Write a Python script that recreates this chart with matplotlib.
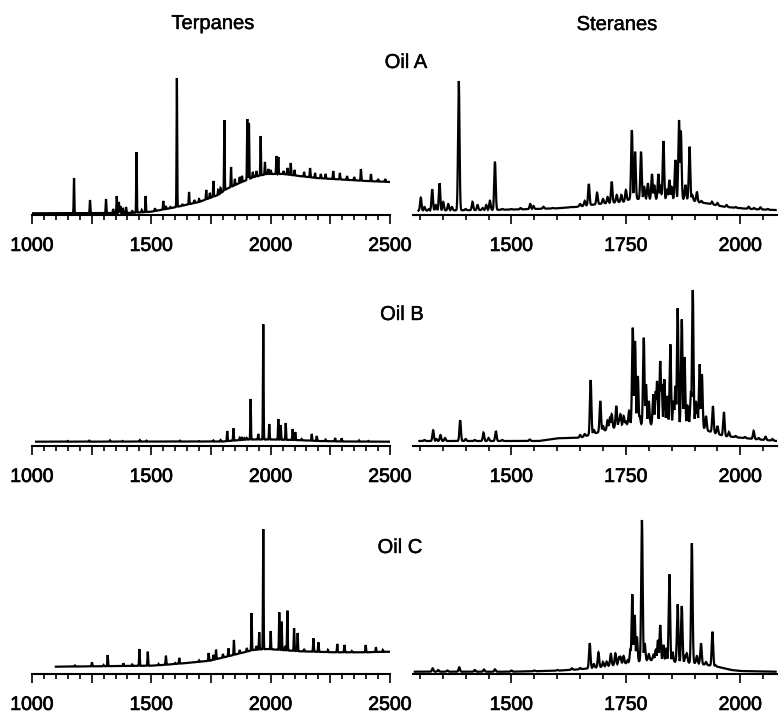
import numpy as np
import matplotlib
matplotlib.use("Agg")
import matplotlib.pyplot as plt
import matplotlib.patheffects as pe
from matplotlib.ticker import MultipleLocator, FuncFormatter

plt.rcParams['font.family'] = ['Liberation Sans', 'DejaVu Sans']

# ---------------- Terpanes (retention index, relative intensity) ----------------
terp_a_base_rt = [1000, 1400, 1450, 1500, 1600, 1700, 1780, 1815, 1870, 1930, 1985, 2050, 2120, 2190, 2260, 2400, 2500]
terp_a_base_int = [1.7, 2.0, 2.5, 3.3, 7.7, 13, 20, 26, 32, 38, 41, 41, 39, 37, 36, 34, 33]
terp_a_peak_rt = [1176, 1243, 1310, 1355, 1364, 1394, 1438, 1476, 1550, 1607, 1658, 1730, 1760,
                  1806, 1834, 1902, 1909, 1958, 1976, 2024, 2032, 2054, 2084, 2165, 2186, 2262,
                  2290, 2378, 2420]
terp_a_peak_top = [37, 15, 16, 19, 13, 8, 63, 19, 14, 137, 23, 25, 34,
                   95, 48, 96, 92, 79, 53, 59, 58, 44, 52, 47, 42, 44,
                   42, 46, 41]
terp_a_minor_rt = [1340, 1370, 1380, 1420, 1460, 1515, 1560, 1580, 1630, 1680, 1700, 1745, 1780,
                   1790, 1850, 1870, 1880, 1925, 1940, 1990, 2000, 2070, 2100, 2140, 2210, 2230,
                   2320, 2350, 2450, 2480]
terp_a_minor_top = [6, 9, 7, 4, 5, 6.7, 9, 8, 11, 15, 16, 22, 25,
                    27, 36, 38, 39, 43, 44, 46, 45, 47, 45, 43, 41, 41,
                    39, 38, 36, 36]

terp_b_base_rt = [1017, 1800, 1850, 1900, 2000, 2100, 2200, 2300, 2500]
terp_b_base_int = [4.3, 4.5, 5.5, 6.5, 6.5, 6.0, 5.0, 4.5, 4.3]
terp_b_peak_rt = [1818, 1844, 1878, 1900, 1916, 1948, 1969, 1994, 2032, 2042, 2063, 2092,
                  2103, 2172, 2193, 2270, 2297]
terp_b_peak_top = [15, 17.7, 9, 8, 47, 12, 121.7, 22, 27, 21, 23, 17,
                   14, 12, 10, 8, 7.7]
terp_b_minor_rt = [1150, 1240, 1327, 1380, 1452, 1480, 1620, 1700, 1760, 1790, 1870, 1890,
                   2130, 2230, 2370, 2410]
terp_b_minor_top = [5, 5.3, 5.6, 5, 5.8, 5.3, 5.3, 5, 5.5, 6, 8, 8,
                    7, 6.5, 5.5, 5]

terp_c_base_rt = [1100, 1500, 1564, 1648, 1746, 1844, 1927, 1983, 2123, 2263, 2400, 2500]
terp_c_base_int = [7.3, 8.3, 9.3, 11, 13.3, 19, 24, 25, 22.7, 21.7, 21.7, 22.3]
terp_c_peak_rt = [1251, 1317, 1383, 1450, 1485, 1561, 1617, 1740, 1771, 1823, 1846, 1920,
                  1952, 1969, 2000, 2036, 2046, 2070, 2098, 2113, 2179, 2200, 2279, 2309,
                  2398, 2441]
terp_c_peak_top = [11.7, 19, 10.7, 25, 22.3, 18.3, 16, 21, 24.3, 25.7, 34, 61,
                   41.7, 145, 43, 61.7, 52.3, 63.3, 46, 41, 35.7, 31.7, 30, 29,
                   29, 26.7]
terp_c_minor_rt = [1180, 1300, 1420, 1530, 1600, 1700, 1760, 1800, 1870, 1900, 1940, 2060,
                   2140, 2240, 2340, 2470]
terp_c_minor_top = [8.5, 9, 9.5, 10, 11, 13.5, 19, 20, 24, 26, 28, 28,
                    25, 24, 23, 24]

# ---------------- Steranes ----------------
ster_a_base_rt = [1297, 1450, 1526, 1599, 1640, 1672, 1700, 1745, 1760, 1890, 1905, 1927, 1964, 2000, 2036, 2077]
ster_a_base_int = [4.3, 5.0, 5.7, 6.7, 8, 10, 11.5, 13.3, 16, 16, 13, 11.7, 8.3, 6.7, 5.7, 5.0]
ster_a_peak_rt = [1302, 1327, 1343, 1351, 1362, 1385, 1415, 1426, 1453, 1464, 1541, 1570,
                  1669, 1687, 1719, 1730, 1763, 1770, 1783, 1798, 1807, 1821, 1832, 1840,
                  1858, 1866, 1870, 1889, 1905, 1938, 2018, 2044]
ster_a_peak_top = [17.3, 25.7, 31.7, 13, 11, 134, 13, 10, 14.3, 53.3, 11, 8.3,
                   31, 22.3, 33.3, 20, 85, 63.3, 63.3, 31.7, 41, 41, 74, 25,
                   55, 95, 84.3, 68.3, 23.3, 13.3, 8.3, 7.7]
ster_a_minor_rt = [1310, 1320, 1335, 1370, 1400, 1437, 1445, 1480, 1500, 1520, 1548, 1560,
                   1590, 1610, 1630, 1650, 1660, 1700, 1710, 1740, 1750, 1790, 1812, 1826,
                   1845, 1850, 1880, 1895, 1915, 1950, 1970, 1990, 2000, 2030, 2060]
ster_a_minor_top = [8, 6, 10, 8, 6, 7, 10, 6, 6, 7, 9, 6,
                    7, 7, 8, 11, 14, 16, 18, 20, 25, 28, 30, 30,
                    35, 28, 30, 20, 14, 12, 10, 8, 7, 7, 6]

ster_b_base_rt = [1299, 1560, 1600, 1650, 1700, 1750, 1900, 1930, 1964, 2000, 2036, 2080]
ster_b_base_int = [5.0, 5.0, 7.7, 8.3, 15, 21.7, 21.7, 15, 10, 8.3, 6.7, 5.0]
ster_b_peak_rt = [1329, 1345, 1388, 1439, 1466, 1650, 1673, 1694, 1710, 1719, 1729, 1738,
                  1749, 1765, 1770, 1776, 1789, 1794, 1810, 1818, 1825, 1834, 1847, 1854,
                  1863, 1872, 1878, 1896, 1903, 1911, 1916, 1940, 1964, 2029, 2055]
ster_b_peak_top = [15.7, 11, 25.7, 13.3, 15, 11, 66, 45, 25.7, 31.7, 40, 31.7,
                   25, 118.3, 105, 70, 108.3, 61.7, 51.7, 65, 85, 66.7, 101.7, 45,
                   137.7, 126.7, 89, 156, 45, 81.7, 71.7, 40, 34, 15, 9.3]
ster_b_minor_rt = [1310, 1336, 1355, 1400, 1420, 1450, 1480, 1540, 1580, 1610, 1630, 1660,
                   1680, 1700, 1715, 1735, 1745, 1757, 1780, 1800, 1815, 1828, 1840, 1858,
                   1885, 1892, 1906, 1925, 1950, 1975, 1990, 2010, 2040, 2070]
ster_b_minor_top = [6, 7, 8, 7, 6, 8, 6, 6.5, 6, 6.5, 8, 12,
                    16, 20, 28, 26, 30, 35, 30, 45, 55, 62, 50, 60,
                    40, 55, 35, 30, 20, 14, 10, 9, 8, 7]

ster_c_base_rt = [1289, 1500, 1600, 1650, 1700, 1750, 1800, 1850, 1900, 1950, 1980, 2000, 2077]
ster_c_base_int = [2.3, 2.3, 3.3, 4.7, 7.3, 10.7, 14, 12.3, 11, 7.3, 4, 3, 2.3]
ster_c_peak_rt = [1328, 1386, 1464, 1632, 1671, 1690, 1708, 1717, 1727, 1738, 1754, 1764,
                  1769, 1774, 1785, 1791, 1810, 1820, 1825, 1832, 1845, 1863, 1872, 1883,
                  1894, 1914, 1939, 1974]
ster_c_peak_top = [5.7, 6.7, 4.7, 5.7, 30.7, 21.7, 12.3, 20.7, 20.7, 17.3, 14, 79.7,
                   59, 37.3, 154, 30.7, 19, 34, 49, 29, 99.7, 69.7, 68, 20.7,
                   130.7, 30.7, 42.3, 4]
ster_c_minor_rt = [1340, 1360, 1420, 1440, 1500, 1550, 1600, 1650, 1680, 1700, 1735, 1745,
                   1760, 1800, 1815, 1838, 1852, 1880, 1905, 1925, 1945, 1960]
ster_c_minor_top = [4, 3.5, 4, 4.5, 3.5, 3.5, 4, 6, 10, 12, 17, 18,
                    25, 20, 24, 25, 22, 18, 18, 12, 9, 5]

row_titles = ["Oil A", "Oil B", "Oil C"]
col_titles = ["Terpanes", "Steranes"]


def build_trace(base_rt, base_int, peak_rt, peak_top, minor_rt, minor_top, width, step=0.25):
    rt = np.arange(base_rt[0], base_rt[-1] + step / 2, step)
    base = np.interp(rt, base_rt, base_int)
    sig = base.copy()
    for p, top in list(zip(peak_rt, peak_top)) + list(zip(minor_rt, minor_top)):
        amp = top - np.interp(p, base_rt, base_int)
        sig = np.maximum(sig, base + amp * np.exp(-0.5 * ((rt - p) / width) ** 2))
    return rt, sig


W, H = 779, 717
fig = plt.figure(figsize=(W / 100, H / 100), dpi=100)

heavy = [pe.withStroke(linewidth=0.5, foreground="black")]

spine_y = [215, 446, 674]
ax_h = 170
left_cols = [(32, 390, (1000, 2500)), (413, 777, (1285, 2080))]

terp = [
    (terp_a_base_rt, terp_a_base_int, terp_a_peak_rt, terp_a_peak_top, terp_a_minor_rt, terp_a_minor_top),
    (terp_b_base_rt, terp_b_base_int, terp_b_peak_rt, terp_b_peak_top, terp_b_minor_rt, terp_b_minor_top),
    (terp_c_base_rt, terp_c_base_int, terp_c_peak_rt, terp_c_peak_top, terp_c_minor_rt, terp_c_minor_top),
]
ster = [
    (ster_a_base_rt, ster_a_base_int, ster_a_peak_rt, ster_a_peak_top, ster_a_minor_rt, ster_a_minor_top),
    (ster_b_base_rt, ster_b_base_int, ster_b_peak_rt, ster_b_peak_top, ster_b_minor_rt, ster_b_minor_top),
    (ster_c_base_rt, ster_c_base_int, ster_c_peak_rt, ster_c_peak_top, ster_c_minor_rt, ster_c_minor_top),
]


def style_axis(ax, xlim, col):
    ax.set_xlim(*xlim)
    ax.set_ylim(0, ax_h)
    for s in ("top", "left", "right"):
        ax.spines[s].set_visible(False)
    ax.spines["bottom"].set_linewidth(1.5)
    ax.set_yticks([])
    ax.xaxis.set_major_locator(MultipleLocator(250))
    ax.xaxis.set_minor_locator(MultipleLocator(50))
    if col == 0:
        ax.xaxis.set_major_formatter(FuncFormatter(lambda v, _: f"{v:.0f}" if v % 500 == 0 else ""))
    else:
        ax.xaxis.set_major_formatter(FuncFormatter(lambda v, _: f"{v:.0f}"))
    ax.tick_params(axis="x", which="major", length=6.5, width=1.2, pad=10, labelsize=14)
    ax.tick_params(axis="x", which="minor", length=3.6, width=1.2)
    for lab in ax.get_xticklabels():
        lab.set_path_effects(heavy)
    ax.patch.set_visible(False)


for r in range(3):
    for c, data in enumerate([terp, ster]):
        x0, x1, xlim = left_cols[c]
        ax = fig.add_axes([x0 / W, (H - spine_y[r]) / H, (x1 - x0) / W, ax_h / H])
        width = 1.3 if c == 0 else 1.6
        rt, sig = build_trace(*data[r], width=width)
        keep = (rt >= xlim[0]) & (rt <= xlim[1])
        ax.plot(rt[keep], sig[keep], color="black", lw=1.6, solid_joinstyle="miter")
        style_axis(ax, xlim, c)

title_kw = dict(ha="center", va="baseline", fontsize=14.5, path_effects=[pe.withStroke(linewidth=0.3, foreground="black")])
fig.text(213 / W, 1 - 29 / H, col_titles[0], **title_kw)
fig.text(617 / W, 1 - 30 / H, col_titles[1], **title_kw)
for name, (cx, by) in zip(row_titles, [(406, 68), (402, 320), (400, 553)]):
    fig.text(cx / W, 1 - by / H, name, **title_kw)

fig.savefig("out.png", dpi=100)
